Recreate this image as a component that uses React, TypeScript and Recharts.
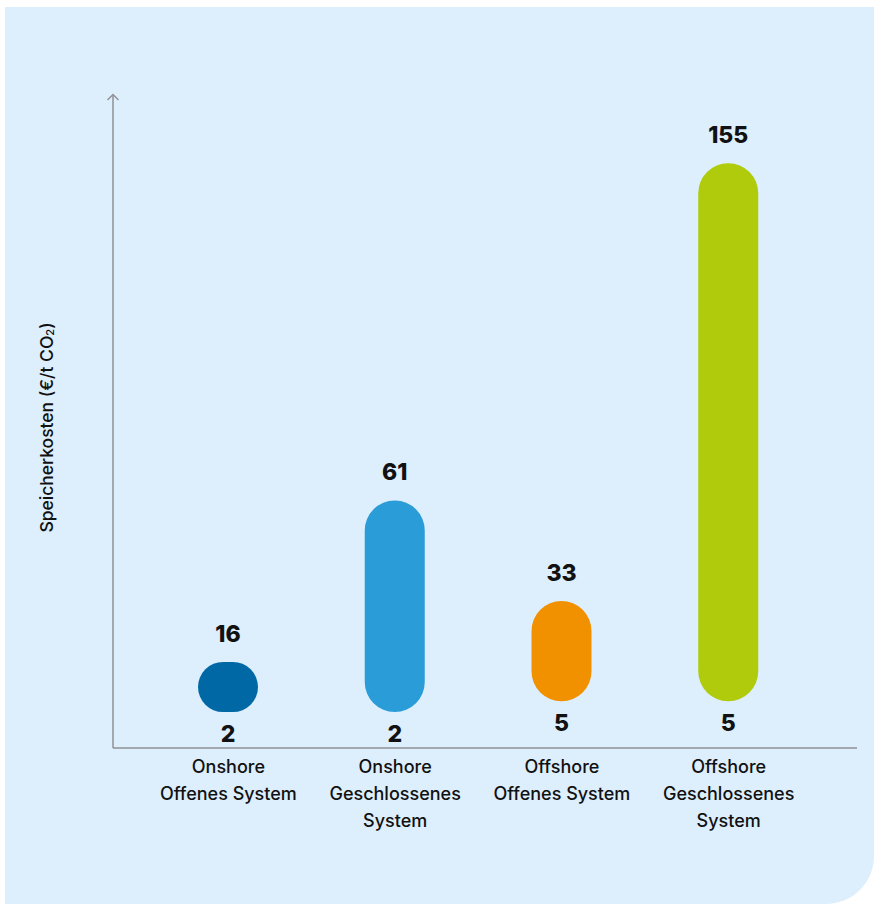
import { BarChart, Bar, XAxis, YAxis, Cell, LabelList, Label } from 'recharts';

const categories = [
  'Onshore\nOffenes System',
  'Onshore\nGeschlossenes\nSystem',
  'Offshore\nOffenes System',
  'Offshore\nGeschlossenes\nSystem',
];
const lowValues = [2, 2, 5, 5];
const highValues = [16, 61, 33, 155];
const barColors = ['#0068A5', '#2A9CD8', '#F29100', '#AFCB0C'];

const axisColor = '#8E9094';
const textColor = '#111111';
const font = 'Inter, "Noto Sans", sans-serif';

const data = categories.map((name, i) => ({
  name,
  range: [lowValues[i], highValues[i]],
  low: lowValues[i],
  high: highValues[i],
}));

function CategoryTick({ x, y, payload }: any) {
  const lines = String(payload.value).split('\n');
  return (
    <text x={x} y={y + 17} textAnchor="middle" fill={textColor} fontSize={18}
      fontWeight={500} fontFamily={font}>
      {lines.map((l, i) => (
        <tspan key={i} x={x} dy={i === 0 ? 0 : 27}>{l}</tspan>
      ))}
    </text>
  );
}

function TopLabel({ x, y, width, value }: any) {
  return (
    <text x={x + width / 2} y={y - 20} textAnchor="middle" fill={textColor}
      fontSize={23} fontWeight={800} fontFamily={font}>
      {value}
    </text>
  );
}

function BottomLabel({ x, y, width, height, value }: any) {
  return (
    <text x={x + width / 2} y={y + height + 30} textAnchor="middle" fill={textColor}
      fontSize={23} fontWeight={800} fontFamily={font}>
      {value}
    </text>
  );
}

function YTitle({ viewBox }: any) {
  const cx = viewBox.x - 7;
  const cy = viewBox.y + viewBox.height / 2 + 6;
  return (
    <text x={cx} y={cy} transform={`rotate(-90 ${cx} ${cy})`} textAnchor="middle"
      dominantBaseline="central" fill={textColor} fontSize={17.5} fontWeight={500} fontFamily={font}>
      Speicherkosten (€/t CO<tspan fontSize={11} dy={4}>2</tspan><tspan dy={-4}>)</tspan>
    </text>
  );
}

export default function App() {
  return (
    <div style={{ position: 'absolute', left: 0, top: 0, width: 874, height: 904, background: '#fff' }}>
      <div style={{
        position: 'absolute', left: 5, top: 7, width: 869, height: 897,
        background: '#DDEEFC', borderBottomRightRadius: 48,
      }} />
      <div style={{ position: 'absolute', left: 0, top: 0 }}>
        <BarChart width={874} height={904} data={data}
          margin={{ top: 95, right: 17, bottom: 0, left: 53 }}
          style={{ fontFamily: font }}>
          <defs>
            <marker id="arrowUp" viewBox="0 0 12 12" refX="6" refY="6"
              markerWidth="12" markerHeight="12" markerUnits="userSpaceOnUse"
              orient="auto-start-reverse">
              <path d="M1,0.5 L6.5,6 L1,11.5" fill="none" stroke={axisColor} strokeWidth={1.4} />
            </marker>
          </defs>
          <XAxis dataKey="name" interval={0} tickLine={false}
            axisLine={{ stroke: axisColor, strokeWidth: 1.5 }}
            padding={{ left: 32, right: 45 }}
            tick={<CategoryTick />} height={156} />
          <YAxis type="number" domain={[-8, 174]} allowDataOverflow width={60}
            tick={false} tickLine={false}
            axisLine={{ stroke: axisColor, strokeWidth: 1.5, markerStart: 'url(#arrowUp)' }}
            label={<Label content={<YTitle />} />} />
          <Bar dataKey="range" barSize={60} radius={30} isAnimationActive={false}>
            {data.map((d, i) => (
              <Cell key={d.name} fill={barColors[i]} />
            ))}
            <LabelList dataKey="high" content={<TopLabel />} />
            <LabelList dataKey="low" content={<BottomLabel />} />
          </Bar>
        </BarChart>
      </div>
    </div>
  );
}
